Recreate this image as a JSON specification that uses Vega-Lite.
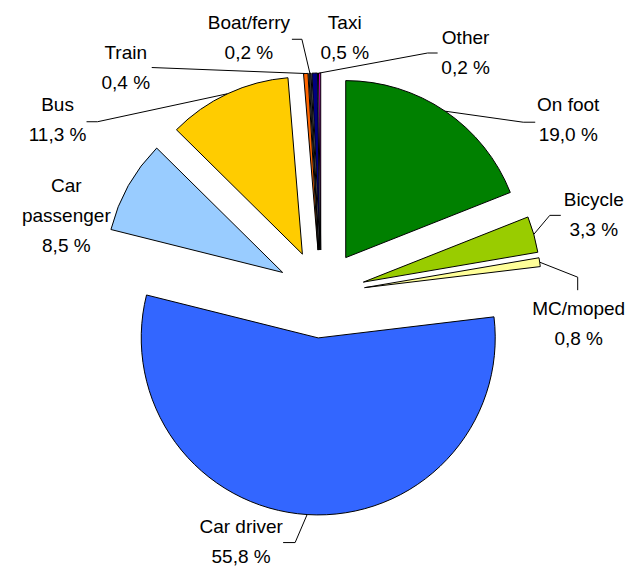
{
  "$schema": "https://vega.github.io/schema/vega-lite/v6.json",
  "width": 639,
  "height": 570,
  "autosize": "none",
  "padding": 0,
  "background": "white",
  "config": {"view": {"stroke": null}, "text": {"font": "Liberation Sans", "fontSize": 19, "lineHeight": 30, "lineBreak": "\n", "align": "center", "baseline": "middle", "color": "#000000"}},
  "data": {
    "values": [
      {"order": 1, "mode": "On foot", "pct": 19.0},
      {"order": 2, "mode": "Bicycle", "pct": 3.3},
      {"order": 3, "mode": "MC/moped", "pct": 0.8},
      {"order": 4, "mode": "Car driver", "pct": 55.8},
      {"order": 5, "mode": "Car passenger", "pct": 8.5},
      {"order": 6, "mode": "Bus", "pct": 11.3},
      {"order": 7, "mode": "Train", "pct": 0.4},
      {"order": 8, "mode": "Boat/ferry", "pct": 0.2},
      {"order": 9, "mode": "Taxi", "pct": 0.5},
      {"order": 10, "mode": "Other", "pct": 0.2}
    ]
  },
  "transform": [
    {"window": [{"op": "sum", "field": "pct", "as": "end"}], "sort": [{"field": "order"}], "frame": [null, 0]},
    {"calculate": "datum.end - datum.pct", "as": "start"},
    {"calculate": "2 * PI * (datum.start + datum.pct / 2) / 100", "as": "mid"},
    {"calculate": "44 * sin(datum.mid)", "as": "ex"},
    {"calculate": "-44 * cos(datum.mid)", "as": "ey"},
    {"calculate": "221 * sin(datum.mid)", "as": "ax"},
    {"calculate": "-221 * cos(datum.mid)", "as": "ay"},
    {"calculate": "(datum.mode == 'Car passenger' ? 'Car\\npassenger' : datum.mode) + '\\n' + replace(format(datum.pct, '.1f'), '.', ',') + ' %'", "as": "label"}
  ],
  "layer": [
    {
      "mark": {"type": "arc", "outerRadius": 177, "stroke": "#000000", "strokeWidth": 1},
      "encoding": {
        "x": {"field": "ex", "type": "quantitative", "scale": {"domain": [-321, 318], "range": [0, 639], "nice": false, "zero": false}, "axis": null},
        "y": {"field": "ey", "type": "quantitative", "scale": {"domain": [-294, 276], "range": [0, 570], "nice": false, "zero": false}, "axis": null},
        "theta": {"field": "start", "type": "quantitative", "scale": {"domain": [0, 100]}, "stack": null},
        "theta2": {"field": "end"},
        "color": {
          "field": "mode", "type": "nominal", "legend": null,
          "scale": {
            "domain": ["On foot", "Bicycle", "MC/moped", "Car driver", "Car passenger", "Bus", "Train", "Boat/ferry", "Taxi", "Other"],
            "range": ["#008000", "#99CC00", "#FFFF99", "#3366FF", "#99CCFF", "#FFCC00", "#FF6600", "#333333", "#000080", "#CC00CC"]
          }
        }
      }
    },
    {
      "transform": [{"filter": "datum.mode == 'On foot'"}],
      "mark": {"type": "rule", "color": "#000000", "strokeWidth": 1, "x2Offset": 78, "y2Offset": 11},
      "encoding": {"x": {"field": "ax", "type": "quantitative"}, "y": {"field": "ay", "type": "quantitative"}, "x2": {"field": "ax"}, "y2": {"field": "ay"}}
    },
    {
      "transform": [{"filter": "datum.mode == 'On foot'"}],
      "mark": {"type": "rule", "color": "#000000", "strokeWidth": 1, "xOffset": 78, "yOffset": 11, "x2Offset": 90, "y2Offset": 11},
      "encoding": {"x": {"field": "ax", "type": "quantitative"}, "y": {"field": "ay", "type": "quantitative"}, "x2": {"field": "ax"}, "y2": {"field": "ay"}}
    },
    {
      "transform": [{"filter": "datum.mode == 'Bicycle'"}],
      "mark": {"type": "rule", "color": "#000000", "strokeWidth": 1, "x2Offset": 16, "y2Offset": -19},
      "encoding": {"x": {"field": "ax", "type": "quantitative"}, "y": {"field": "ay", "type": "quantitative"}, "x2": {"field": "ax"}, "y2": {"field": "ay"}}
    },
    {
      "transform": [{"filter": "datum.mode == 'Bicycle'"}],
      "mark": {"type": "rule", "color": "#000000", "strokeWidth": 1, "xOffset": 16, "yOffset": -19, "x2Offset": 27, "y2Offset": -19},
      "encoding": {"x": {"field": "ax", "type": "quantitative"}, "y": {"field": "ay", "type": "quantitative"}, "x2": {"field": "ax"}, "y2": {"field": "ay"}}
    },
    {
      "transform": [{"filter": "datum.mode == 'MC/moped'"}],
      "mark": {"type": "rule", "color": "#000000", "strokeWidth": 1, "x2Offset": 38, "y2Offset": 15},
      "encoding": {"x": {"field": "ax", "type": "quantitative"}, "y": {"field": "ay", "type": "quantitative"}, "x2": {"field": "ax"}, "y2": {"field": "ay"}}
    },
    {
      "transform": [{"filter": "datum.mode == 'MC/moped'"}],
      "mark": {"type": "rule", "color": "#000000", "strokeWidth": 1, "xOffset": 38, "yOffset": 15, "x2Offset": 38, "y2Offset": 28},
      "encoding": {"x": {"field": "ax", "type": "quantitative"}, "y": {"field": "ay", "type": "quantitative"}, "x2": {"field": "ax"}, "y2": {"field": "ay"}}
    },
    {
      "transform": [{"filter": "datum.mode == 'Car driver'"}],
      "mark": {"type": "rule", "color": "#000000", "strokeWidth": 1, "x2Offset": -12, "y2Offset": 28},
      "encoding": {"x": {"field": "ax", "type": "quantitative"}, "y": {"field": "ay", "type": "quantitative"}, "x2": {"field": "ax"}, "y2": {"field": "ay"}}
    },
    {
      "transform": [{"filter": "datum.mode == 'Car driver'"}],
      "mark": {"type": "rule", "color": "#000000", "strokeWidth": 1, "xOffset": -12, "yOffset": 28, "x2Offset": -24, "y2Offset": 28},
      "encoding": {"x": {"field": "ax", "type": "quantitative"}, "y": {"field": "ay", "type": "quantitative"}, "x2": {"field": "ax"}, "y2": {"field": "ay"}}
    },
    {
      "transform": [{"filter": "datum.mode == 'Bus'"}],
      "mark": {"type": "rule", "color": "#000000", "strokeWidth": 1, "x2Offset": -130, "y2Offset": 28},
      "encoding": {"x": {"field": "ax", "type": "quantitative"}, "y": {"field": "ay", "type": "quantitative"}, "x2": {"field": "ax"}, "y2": {"field": "ay"}}
    },
    {
      "transform": [{"filter": "datum.mode == 'Bus'"}],
      "mark": {"type": "rule", "color": "#000000", "strokeWidth": 1, "xOffset": -130, "yOffset": 28, "x2Offset": -141, "y2Offset": 28},
      "encoding": {"x": {"field": "ax", "type": "quantitative"}, "y": {"field": "ay", "type": "quantitative"}, "x2": {"field": "ax"}, "y2": {"field": "ay"}}
    },
    {
      "transform": [{"filter": "datum.mode == 'Train'"}],
      "mark": {"type": "rule", "color": "#000000", "strokeWidth": 1, "x2Offset": -154, "y2Offset": -6},
      "encoding": {"x": {"field": "ax", "type": "quantitative"}, "y": {"field": "ay", "type": "quantitative"}, "x2": {"field": "ax"}, "y2": {"field": "ay"}}
    },
    {
      "transform": [{"filter": "datum.mode == 'Boat/ferry'"}],
      "mark": {"type": "rule", "color": "#000000", "strokeWidth": 1, "x2Offset": -8, "y2Offset": -34},
      "encoding": {"x": {"field": "ax", "type": "quantitative"}, "y": {"field": "ay", "type": "quantitative"}, "x2": {"field": "ax"}, "y2": {"field": "ay"}}
    },
    {
      "transform": [{"filter": "datum.mode == 'Boat/ferry'"}],
      "mark": {"type": "rule", "color": "#000000", "strokeWidth": 1, "xOffset": -8, "yOffset": -34, "x2Offset": -18, "y2Offset": -34},
      "encoding": {"x": {"field": "ax", "type": "quantitative"}, "y": {"field": "ay", "type": "quantitative"}, "x2": {"field": "ax"}, "y2": {"field": "ay"}}
    },
    {
      "transform": [{"filter": "datum.mode == 'Other'"}],
      "mark": {"type": "rule", "color": "#000000", "strokeWidth": 1, "x2Offset": 108, "y2Offset": -20},
      "encoding": {"x": {"field": "ax", "type": "quantitative"}, "y": {"field": "ay", "type": "quantitative"}, "x2": {"field": "ax"}, "y2": {"field": "ay"}}
    },
    {
      "transform": [{"filter": "datum.mode == 'Other'"}],
      "mark": {"type": "rule", "color": "#000000", "strokeWidth": 1, "xOffset": 108, "yOffset": -20, "x2Offset": 118, "y2Offset": -20},
      "encoding": {"x": {"field": "ax", "type": "quantitative"}, "y": {"field": "ay", "type": "quantitative"}, "x2": {"field": "ax"}, "y2": {"field": "ay"}}
    },
    {
      "transform": [{"filter": "datum.mode == 'On foot'"}],
      "mark": {"type": "text", "dx": 123, "dy": -6},
      "encoding": {"x": {"field": "ax", "type": "quantitative"}, "y": {"field": "ay", "type": "quantitative"}, "text": {"field": "label"}}
    },
    {
      "transform": [{"filter": "datum.mode == 'Bicycle'"}],
      "mark": {"type": "text", "dx": 60, "dy": -34},
      "encoding": {"x": {"field": "ax", "type": "quantitative"}, "y": {"field": "ay", "type": "quantitative"}, "text": {"field": "label"}}
    },
    {
      "transform": [{"filter": "datum.mode == 'MC/moped'"}],
      "mark": {"type": "text", "dx": 39, "dy": 47},
      "encoding": {"x": {"field": "ax", "type": "quantitative"}, "y": {"field": "ay", "type": "quantitative"}, "text": {"field": "label"}}
    },
    {
      "transform": [{"filter": "datum.mode == 'Car driver'"}],
      "mark": {"type": "text", "dx": -66, "dy": 12},
      "encoding": {"x": {"field": "ax", "type": "quantitative"}, "y": {"field": "ay", "type": "quantitative"}, "text": {"field": "label"}}
    },
    {
      "transform": [{"filter": "datum.mode == 'Car passenger'"}],
      "mark": {"type": "text", "dx": -62, "dy": 0},
      "encoding": {"x": {"field": "ax", "type": "quantitative"}, "y": {"field": "ay", "type": "quantitative"}, "text": {"field": "label"}}
    },
    {
      "transform": [{"filter": "datum.mode == 'Bus'"}],
      "mark": {"type": "text", "dx": -170, "dy": 11},
      "encoding": {"x": {"field": "ax", "type": "quantitative"}, "y": {"field": "ay", "type": "quantitative"}, "text": {"field": "label"}}
    },
    {
      "transform": [{"filter": "datum.mode == 'Train'"}],
      "mark": {"type": "text", "dx": -180, "dy": -21},
      "encoding": {"x": {"field": "ax", "type": "quantitative"}, "y": {"field": "ay", "type": "quantitative"}, "text": {"field": "label"}}
    },
    {
      "transform": [{"filter": "datum.mode == 'Boat/ferry'"}],
      "mark": {"type": "text", "dx": -61, "dy": -50},
      "encoding": {"x": {"field": "ax", "type": "quantitative"}, "y": {"field": "ay", "type": "quantitative"}, "text": {"field": "label"}}
    },
    {
      "transform": [{"filter": "datum.mode == 'Taxi'"}],
      "mark": {"type": "text", "dx": 30, "dy": -50},
      "encoding": {"x": {"field": "ax", "type": "quantitative"}, "y": {"field": "ay", "type": "quantitative"}, "text": {"field": "label"}}
    },
    {
      "transform": [{"filter": "datum.mode == 'Other'"}],
      "mark": {"type": "text", "dx": 146, "dy": -35},
      "encoding": {"x": {"field": "ax", "type": "quantitative"}, "y": {"field": "ay", "type": "quantitative"}, "text": {"field": "label"}}
    }
  ]
}
